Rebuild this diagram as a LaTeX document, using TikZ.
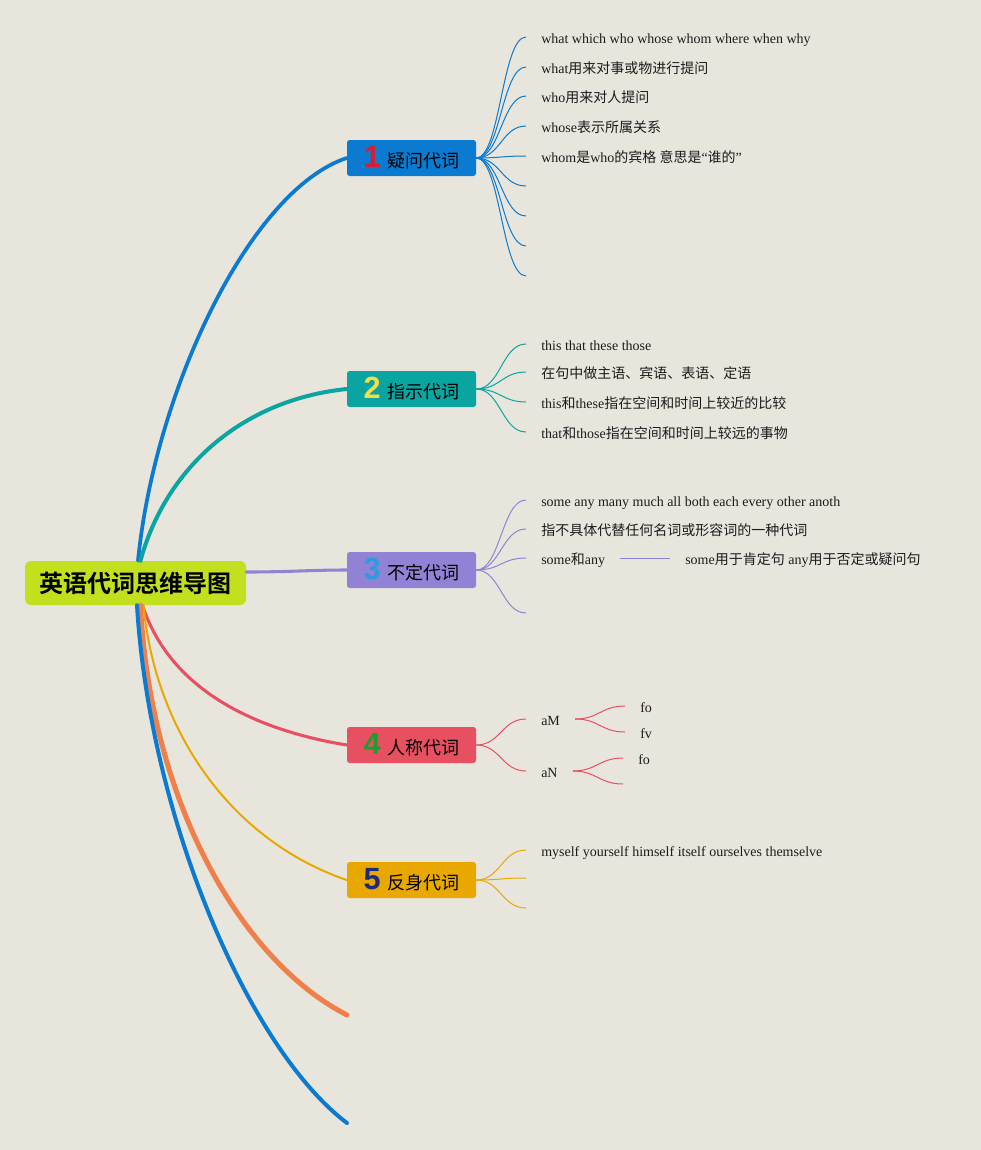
\documentclass[tikz,border=0pt]{standalone}
\usepackage{fontspec}
\setmainfont{Liberation Serif}
\newfontfamily\cjk{Noto Sans CJK SC}[BoldFont={Noto Sans CJK SC Bold}]
\newfontfamily\numfont{Liberation Sans}[BoldFont={Liberation Sans Bold}]
\usetikzlibrary{calc}
\definecolor{bg}{HTML}{E8E5DD}
\definecolor{rootc}{HTML}{C3E01E}
\definecolor{cA}{HTML}{0A7BD0}
\definecolor{cB}{HTML}{0AA5A0}
\definecolor{cC}{HTML}{9282D6}
\definecolor{cD}{HTML}{E65061}
\definecolor{cE}{HTML}{E8A800}
\definecolor{cF}{HTML}{F0804A}
\definecolor{nA}{HTML}{D81E2E}
\definecolor{nB}{HTML}{F2DE4A}
\definecolor{nC}{HTML}{2E9BE0}
\definecolor{nD}{HTML}{1E9E2E}
\definecolor{nE}{HTML}{1E2A78}
\definecolor{txt}{HTML}{1C1C1C}
\newcommand{\num}[2]{{\numfont\bfseries\fontsize{23}{23}\selectfont\color{#1}#2}\hspace{5pt}}
\begin{document}
\begin{tikzpicture}[x=0.75pt,y=-0.75pt,
  branch/.style={rounded corners=2pt, minimum width=96.75pt, minimum height=27pt, inner sep=0pt, text=black, font=\cjk\fontsize{13.5}{16}\selectfont},
  leaf/.style={anchor=west, inner xsep=11.25pt, inner ysep=0pt, text height=11pt, text depth=1pt, font=\fontsize{10.5}{12}\selectfont, text=txt},
  sub/.style={line width=0.75pt},
  mainline/.style={line cap=round},
]
\useasboundingbox (0,0) rectangle (981,1150);
\fill[bg] (0,0) rectangle (981,1150);

% root and branches
\node[fill=rootc, rounded corners=4.5pt, minimum width=165.75pt, minimum height=33pt, inner sep=0pt, font=\cjk\bfseries\fontsize{18}{20}\selectfont] (root) at (135.5,583) {英语代词思维导图};
\node[branch, fill=cA] (b1) at (411.5,158) {\num{nA}{1}疑问代词};
\node[branch, fill=cB] (b2) at (411.5,389) {\num{nB}{2}指示代词};
\node[branch, fill=cC] (b3) at (411.5,570) {\num{nC}{3}不定代词};
\node[branch, fill=cD] (b4) at (411.5,745) {\num{nD}{4}人称代词};
\node[branch, fill=cE] (b5) at (411.5,880) {\num{nE}{5}反身代词};

\coordinate (endF) at (347,1015);
\coordinate (endG) at (347,1123);

% main connectors
\draw[mainline, cA, line width=2.8pt] ($(root.north)+(2.5,0)$) .. controls (155,390) and (250,190) .. (b1.west);
\draw[mainline, cB, line width=3pt] ($(root.north)+(5,0)$) .. controls (165,470) and (240,400) .. (b2.west);
\draw[mainline, cC, line width=2.3pt] ($(root.east)+(0,-11)$) .. controls (290,572) and (310,570) .. (b3.west);
\draw[mainline, cD, line width=2.3pt] ($(root.south)+(7,0)$) .. controls (170,690) and (255,730) .. (b4.west);
\draw[mainline, cE, line width=1.5pt] ($(root.south)+(8,0)$) .. controls (155,730) and (230,840) .. (b5.west);
\draw[mainline, cF, line width=3.8pt] ($(root.south)+(5,0)$) .. controls (150,800) and (240,960) .. (endF);
\draw[mainline, cA, line width=3pt] ($(root.south)+(1.5,0)$) .. controls (150,820) and (250,1050) .. (endG);

% branch 1 leaves
\node[leaf] (t11) at (526,37) {what which who whose whom where when why};
\node[leaf] (t12) at (526,67) {what{\cjk 用来对事或物进行提问}};
\node[leaf] (t13) at (526,96) {who{\cjk 用来对人提问}};
\node[leaf] (t14) at (526,126) {whose{\cjk 表示所属关系}};
\node[leaf] (t15) at (526,156) {whom{\cjk 是}who{\cjk 的宾格 意思是}“{\cjk 谁的}”};
\coordinate (e16) at (526,186);
\coordinate (e17) at (526,216);
\coordinate (e18) at (526,246);
\coordinate (e19) at (526,276);
\foreach \t in {t11,t12,t13,t14,t15}
  \draw[sub, cA] (b1.east) .. controls +(24,0) and +(-24,0) .. (\t.west);
\foreach \t in {e16,e17,e18,e19}
  \draw[sub, cA] (b1.east) .. controls +(24,0) and +(-24,0) .. (\t);

% branch 2 leaves
\node[leaf] (t21) at (526,344) {this that these those};
\node[leaf] (t22) at (526,372) {{\cjk 在句中做主语、宾语、表语、定语}};
\node[leaf] (t23) at (526,402) {this{\cjk 和}these{\cjk 指在空间和时间上较近的比较}};
\node[leaf] (t24) at (526,432) {that{\cjk 和}those{\cjk 指在空间和时间上较远的事物}};
\foreach \t in {t21,t22,t23,t24}
  \draw[sub, cB] (b2.east) .. controls +(24,0) and +(-24,0) .. (\t.west);

% branch 3 leaves
\node[leaf] (t31) at (526,500) {some any many much all both each every other anoth};
\node[leaf] (t32) at (526,529) {{\cjk 指不具体代替任何名词或形容词的一种代词}};
\node[leaf] (t33) at (526,558) {some{\cjk 和}any};
\coordinate (e34) at (526,613);
\node[leaf] (t33b) at (670,558) {some{\cjk 用于肯定句} any{\cjk 用于否定或疑问句}};
\foreach \t in {t31,t32,t33}
  \draw[sub, cC] (b3.east) .. controls +(24,0) and +(-24,0) .. (\t.west);
\draw[sub, cC] (b3.east) .. controls +(24,0) and +(-24,0) .. (e34);
\draw[sub, cC] (t33.east) -- (t33b.west);

% branch 4 leaves
\node[leaf] (aM) at (526,719) {aM};
\node[leaf] (aN) at (526,771) {aN};
\node[leaf] (fo1) at (625,706) {fo};
\node[leaf] (fv1) at (625,732) {fv};
\node[leaf] (fo2) at (623,758) {fo};
\coordinate (e44) at (623,784);
\foreach \t in {aM,aN}
  \draw[sub, cD] (b4.east) .. controls +(24,0) and +(-24,0) .. (\t.west);
\foreach \t in {fo1,fv1}
  \draw[sub, cD] (aM.east) .. controls +(24,0) and +(-24,0) .. (\t.west);
\draw[sub, cD] (aN.east) .. controls +(24,0) and +(-24,0) .. (fo2.west);
\draw[sub, cD] (aN.east) .. controls +(24,0) and +(-24,0) .. (e44);

% branch 5 leaves
\node[leaf] (t51) at (526,850) {myself yourself himself itself ourselves themselve};
\coordinate (e52) at (526,878);
\coordinate (e53) at (526,908);
\draw[sub, cE] (b5.east) .. controls +(24,0) and +(-24,0) .. (t51.west);
\foreach \t in {e52,e53}
  \draw[sub, cE] (b5.east) .. controls +(24,0) and +(-24,0) .. (\t);
\end{tikzpicture}
\end{document}
